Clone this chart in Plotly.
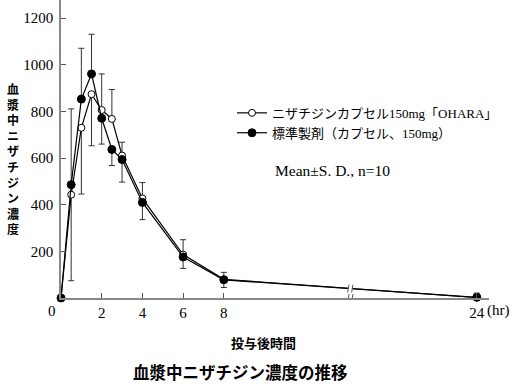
import plotly.graph_objects as go

# ---- data ----
times = [0, 0.5, 1, 1.5, 2, 2.5, 3, 4, 6, 8, 24]
test_mean = [0, 443, 730, 874, 806, 768, 611, 427, 186, 80, 2]
ref_mean = [0, 486, 853, 961, 771, 637, 594, 410, 176, 78, 3]
test_sd_up = [0, 0, 0, 0, 155, 126, 57, 68, 64, 0, 0]
test_sd_down = [0, 369, 284, 221, 0, 0, 0, 0, 0, 0, 0]
ref_sd_up = [0, 325, 218, 170, 0, 0, 0, 0, 0, 32, 18]
ref_sd_down = [0, 0, 0, 0, 111, 69, 97, 74, 49, 33, 0]
x_ticks = [2, 4, 6, 8, 24]
y_ticks = [200, 400, 600, 800, 1000, 1200]
test_name = "ニザチジンカプセル150mg「OHARA」"
ref_name = "標準製剤（カプセル、150mg）"

# ---- broken time axis: 8h..24h compressed ----
BREAK_T = 8
COMPRESS = (20.43 - 8) / 16.0


def tx(t):
    return t if t <= BREAK_T else BREAK_T + (t - BREAK_T) * COMPRESS


xs = [tx(t) for t in times]

# layout geometry (pixels)
W, H = 516, 391
L, R, T, B = 61, 27, 0, 92.7
PW, PH = W - L - R, H - T - B


def pxx(px):
    return (px - L) / PW


def pxy(py):
    return (H - B - py) / PH


SERIF = "Liberation Serif, Noto Sans CJK JP"
GOTH = "Noto Sans CJK JP"

fig = go.Figure()

# error bars first (beneath all markers)
for mean, up, dn in [(test_mean, test_sd_up, test_sd_down), (ref_mean, ref_sd_up, ref_sd_down)]:
    fig.add_trace(go.Scatter(
        x=xs, y=mean, mode="markers", showlegend=False, hoverinfo="skip",
        marker=dict(size=1, opacity=0),
        error_y=dict(type="data", symmetric=False, array=up, arrayminus=dn,
                     color="#333333", thickness=1, width=3),
        cliponaxis=False,
    ))

fig.add_trace(go.Scatter(
    x=xs, y=test_mean, mode="lines+markers", name=test_name,
    line=dict(color="black", width=1.2),
    marker=dict(symbol="circle", size=7, color="white", line=dict(color="black", width=1)),
    cliponaxis=False,
))
fig.add_trace(go.Scatter(
    x=xs, y=ref_mean, mode="lines+markers", name=ref_name,
    line=dict(color="black", width=1.2),
    marker=dict(symbol="circle", size=8, color="black", line=dict(color="black", width=1)),
    cliponaxis=False,
))

annotations = []
# y-axis title, stacked vertically
annotations.append(dict(
    x=pxx(13), y=pxy(159), xref="paper", yref="paper",
    text="<br>".join("血漿中ニザチジン濃度"), showarrow=False,
    xanchor="center", yanchor="middle", align="center",
    font=dict(family=GOTH, size=12, color="black", weight="bold"),
))
# x-axis title
annotations.append(dict(
    x=pxx(263), y=pxy(343), xref="paper", yref="paper", text="投与後時間",
    showarrow=False, xanchor="center", yanchor="middle",
    font=dict(family=GOTH, size=13, color="black", weight="bold"),
))
# caption
annotations.append(dict(
    x=pxx(240), y=pxy(372), xref="paper", yref="paper", text="血漿中ニザチジン濃度の推移",
    showarrow=False, xanchor="center", yanchor="middle",
    font=dict(family=GOTH, size=16.5, color="black", weight="bold"),
))
# "0" origin label and "(hr)" unit
annotations.append(dict(
    x=pxx(52), y=pxy(311), xref="paper", yref="paper", text="0",
    showarrow=False, xanchor="center", yanchor="middle",
    font=dict(family=SERIF, size=15, color="black"),
))
annotations.append(dict(
    x=tx(24), y=pxy(311), xref="x", yref="paper", text="(hr)", xshift=8,
    showarrow=False, xanchor="left", yanchor="middle",
    font=dict(family=SERIF, size=15, color="black"),
))
# Mean ± SD note
annotations.append(dict(
    x=pxx(273), y=pxy(171), xref="paper", yref="paper", text="Mean±S. D., n=10",
    showarrow=False, xanchor="left", yanchor="middle",
    font=dict(family=SERIF, size=15.5, color="black"),
))

# axis-break marks
xb = (tx(BREAK_T) + tx(24)) / 2
yb_line = (ref_mean[-2] + ref_mean[-1]) / 2
shapes = []
for yb in [0, yb_line]:
    shapes.append(dict(type="rect", xref="x", yref="y", xsizemode="pixel", ysizemode="pixel",
                       xanchor=xb, yanchor=yb, x0=-2, x1=2, y0=-5, y1=5,
                       fillcolor="white", line=dict(width=0), layer="above"))
    for dx in (-2, 2):
        shapes.append(dict(type="line", xref="x", yref="y", xsizemode="pixel", ysizemode="pixel",
                           xanchor=xb, yanchor=yb, x0=dx - 0.7, x1=dx + 0.7, y0=-4, y1=4,
                           line=dict(color="#555555", width=1), layer="above"))

fig.update_layout(
    width=W, height=H,
    margin=dict(l=L, r=R, t=T, b=B, autoexpand=False),
    paper_bgcolor="white", plot_bgcolor="white",
    showlegend=True,
    legend=dict(x=pxx(232), y=pxy(98), xanchor="left", yanchor="top",
                font=dict(family=SERIF, size=13, color="black"),
                bgcolor="rgba(0,0,0,0)", borderwidth=0, tracegroupgap=0),
    xaxis=dict(range=[0, 21.03], showgrid=False, zeroline=False,
               showline=True, linecolor="#888888", linewidth=1.5,
               tickvals=[tx(v) for v in x_ticks], ticktext=[str(v) for v in x_ticks],
               ticks="inside", ticklen=5, tickcolor="#555555", tickwidth=1,
               tickfont=dict(family=SERIF, size=15, color="black"), ticklabelstandoff=0),
    yaxis=dict(range=[0, 1278], showgrid=False, zeroline=False,
               showline=True, linecolor="#888888", linewidth=1.5,
               tickvals=y_ticks, ticktext=[str(v) for v in y_ticks],
               ticks="inside", ticklen=5, tickcolor="#555555", tickwidth=1,
               tickfont=dict(family=SERIF, size=15, color="black"), ticklabelstandoff=3),
    annotations=annotations,
    shapes=shapes,
)

fig.write_html("out.html", config={"displayModeBar": False},
               post_script="document.body.style.margin='0';")
